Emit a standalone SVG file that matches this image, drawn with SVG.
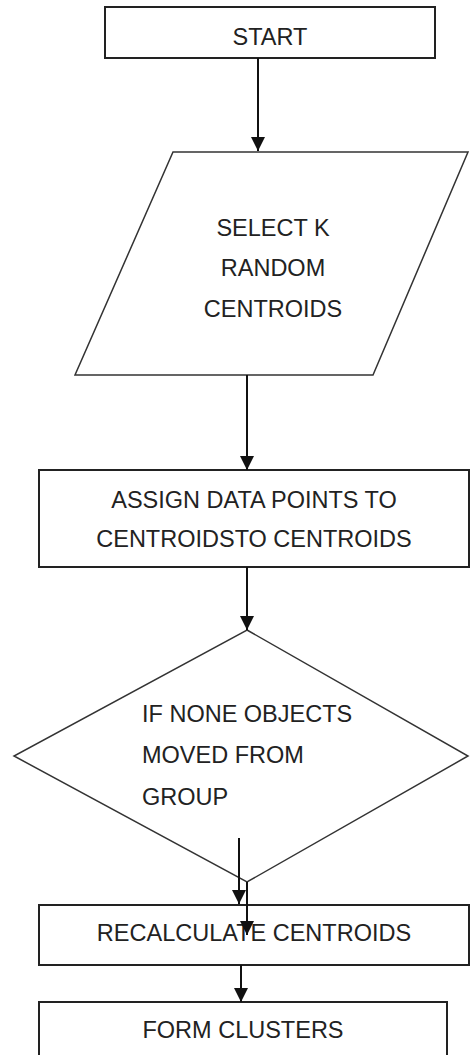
<svg xmlns="http://www.w3.org/2000/svg" width="470" height="1055" viewBox="0 0 470 1055">
<defs>
<style>
.box{fill:#fff;stroke:#222;stroke-width:2}
.shape{fill:#fff;stroke:#333;stroke-width:1.5}
.t{font-family:"Liberation Sans",Arial,sans-serif;font-size:23.5px;fill:#222}
.c{text-anchor:middle}
.line{stroke:#111;stroke-width:2;fill:none}
</style>
<marker id="ah" markerUnits="userSpaceOnUse" markerWidth="16" markerHeight="16" refX="14" refY="7" orient="auto">
<path d="M0,0 L14,7 L0,14 Z" fill="#111"/>
</marker>
</defs>
<rect width="470" height="1055" fill="#fff"/>
<g id="start">
<rect class="box" x="105" y="7" width="330" height="51"/>
<text class="t c" x="270" y="45">START</text>
</g>
<g id="select">
<polygon class="shape" points="173,152 468,152 373,375 75,375"/>
<text class="t c" x="273" y="236">SELECT K</text>
<text class="t c" x="273" y="276">RANDOM</text>
<text class="t c" x="273" y="317">CENTROIDS</text>
</g>
<g id="assign">
<rect class="box" x="39" y="470" width="430" height="97"/>
<text class="t c" x="254" y="508">ASSIGN DATA POINTS TO</text>
<text class="t c" x="254" y="547">CENTROIDSTO CENTROIDS</text>
</g>
<g id="decision">
<polygon class="shape" points="247,630 468,756 247,882 14,756"/>
<text class="t" x="142" y="722">IF NONE OBJECTS</text>
<text class="t" x="142" y="763">MOVED FROM</text>
<text class="t" x="142" y="805">GROUP</text>
</g>
<g id="recalc">
<rect class="box" x="39" y="905" width="430" height="60"/>
<text class="t c" x="254" y="941">RECALCULATE CENTROIDS</text>
</g>
<g id="form">
<rect class="box" x="39" y="1002" width="408" height="60"/>
<text class="t c" x="243" y="1038">FORM CLUSTERS</text>
</g>
<g id="connectors">
<line class="line" x1="258" y1="58" x2="258" y2="151" marker-end="url(#ah)"/>
<line class="line" x1="247" y1="375" x2="247" y2="470" marker-end="url(#ah)"/>
<line class="line" x1="247" y1="567" x2="247" y2="630" marker-end="url(#ah)"/>
<line class="line" x1="239" y1="838" x2="239" y2="904" marker-end="url(#ah)"/>
<line class="line" x1="247" y1="882" x2="247" y2="935" marker-end="url(#ah)"/>
<line class="line" x1="241" y1="965" x2="241" y2="1002" marker-end="url(#ah)"/>
</g>
</svg>
